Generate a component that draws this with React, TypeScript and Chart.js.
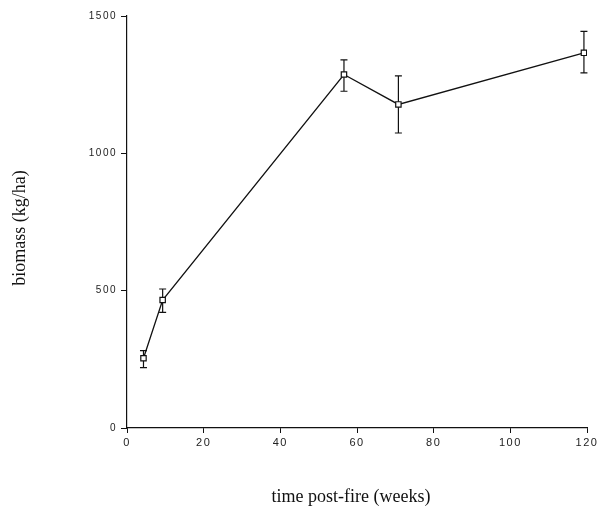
import React, { useEffect, useRef } from "react";
import { Chart, registerables } from "chart.js";

Chart.register(...registerables);

const weeks = [4.3, 9.3, 56.6, 70.8, 119.2];
const biomass = [254, 466, 1287, 1178, 1366];
const upperErr = [282, 506, 1340, 1282, 1444];
const lowerErr = [220, 421, 1226, 1074, 1293];
const xTicks = [0, 20, 40, 60, 80, 100, 120];
const yTicks = [0, 500, 1000, 1500];
const xTitle = "time post-fire (weeks)";
const yTitle = "biomass (kg/ha)";

const errorBarPlugin = {
  id: "errorBars",
  beforeDraw(chart: any) {
    chart.ctx.letterSpacing = "1.5px";
  },
  beforeDatasetsDraw(chart: any) {
    const ctx = chart.ctx;
    const xs = chart.scales.x;
    const ys = chart.scales.y;
    ctx.save();
    ctx.strokeStyle = "#111";
    ctx.lineWidth = 1.2;
    weeks.forEach((w, i) => {
      const px = xs.getPixelForValue(w);
      const pTop = ys.getPixelForValue(upperErr[i]);
      const pBot = ys.getPixelForValue(lowerErr[i]);
      ctx.beginPath();
      ctx.moveTo(px, pTop);
      ctx.lineTo(px, pBot);
      ctx.moveTo(px - 3.5, pTop);
      ctx.lineTo(px + 3.5, pTop);
      ctx.moveTo(px - 3.5, pBot);
      ctx.lineTo(px + 3.5, pBot);
      ctx.stroke();
    });
    ctx.restore();
  },
  afterDraw(chart: any) {
    const ctx = chart.ctx;
    ctx.save();
    ctx.letterSpacing = "0px";
    ctx.fillStyle = "#111";
    ctx.font = '18px "Liberation Serif", serif';
    ctx.textAlign = "center";
    ctx.textBaseline = "middle";
    ctx.fillText(xTitle, 351, 497);
    ctx.translate(20, 228);
    ctx.rotate(-Math.PI / 2);
    ctx.fillText(yTitle, 0, 0);
    ctx.restore();
  },
};

export default function App() {
  const ref = useRef<HTMLCanvasElement>(null);
  useEffect(() => {
    document.body.style.margin = "0";
    const chart = new Chart(ref.current as HTMLCanvasElement, {
      type: "line",
      data: {
        datasets: [
          {
            data: weeks.map((w, i) => ({ x: w, y: biomass[i] })),
            borderColor: "#111",
            borderWidth: 1.3,
            pointStyle: "rect",
            pointRadius: 3.8,
            pointBackgroundColor: "#fff",
            pointBorderColor: "#111",
            pointBorderWidth: 1.2,
            tension: 0,
          },
        ],
      },
      options: {
        responsive: false,
        animation: false,
        layout: { padding: { left: 0, top: 16, right: 14, bottom: 0 } },
        plugins: { legend: { display: false }, tooltip: { enabled: false } },
        scales: {
          x: {
            type: "linear",
            min: 0,
            max: 120,
            afterFit: (s: any) => {
              s.height = 79;
            },
            afterBuildTicks: (s: any) => {
              s.ticks = xTicks.map((v) => ({ value: v }));
            },
            grid: {
              display: true,
              drawOnChartArea: false,
              drawTicks: true,
              tickLength: 5,
              color: "#111",
            },
            border: { display: true, color: "#111", width: 1.2 },
            ticks: {
              color: "#222",
              font: { size: 11, family: "'Liberation Sans', sans-serif" },
              padding: 3,
              maxRotation: 0,
              callback: (v: any) => String(v),
            },
          },
          y: {
            type: "linear",
            min: 0,
            max: 1500,
            afterFit: (s: any) => {
              s.width = 127;
            },
            afterBuildTicks: (s: any) => {
              s.ticks = yTicks.map((v) => ({ value: v }));
            },
            grid: {
              display: true,
              drawOnChartArea: false,
              drawTicks: true,
              tickLength: 6,
              color: "#111",
            },
            border: { display: true, color: "#111", width: 1.2 },
            ticks: {
              color: "#222",
              font: { size: 10, family: "'Liberation Sans', sans-serif" },
              padding: 4,
              callback: (v: any) => String(v),
            },
          },
        },
      },
      plugins: [errorBarPlugin],
    } as any);
    return () => chart.destroy();
  }, []);
  return (
    <div style={{ width: 601, height: 507, background: "#fff" }}>
      <canvas ref={ref} width={601} height={507} />
    </div>
  );
}
